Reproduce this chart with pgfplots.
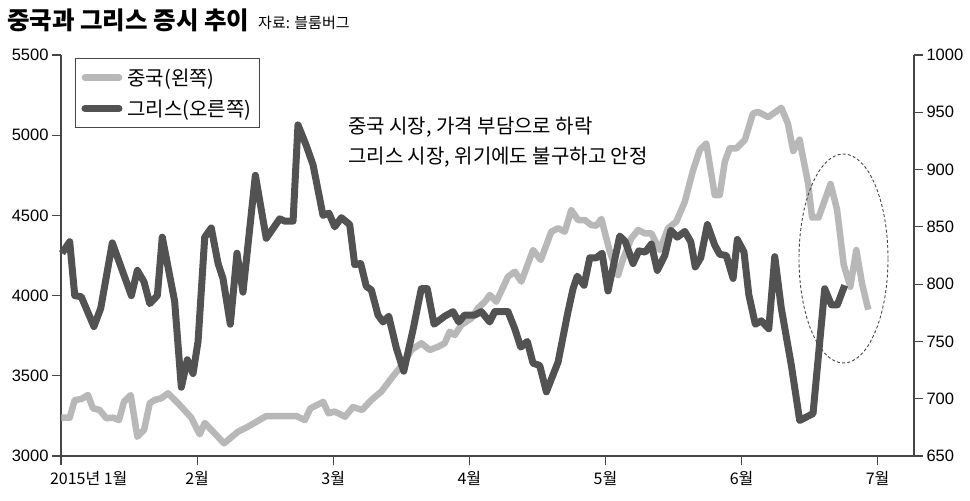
\documentclass[border=0pt]{standalone}
\usepackage{fontspec}
\setmainfont{Liberation Sans}
\newfontfamily\kr{Noto Sans CJK KR}
\usepackage{pgfplots}
\pgfplotsset{compat=1.18}
\definecolor{chinagray}{RGB}{184,184,184}
\definecolor{greecegray}{RGB}{82,82,82}
\definecolor{axisgray}{RGB}{70,70,70}

\begin{document}
\begin{tikzpicture}[x=1pt,y=1pt]
\useasboundingbox (0,0) rectangle (970,501);
\pgfplotsset{
  base/.style={
    at={(61pt,45pt)}, anchor=south west,
    width=853pt, height=401pt, scale only axis,
    xmin=0, xmax=6.267,
    tick align=outside, major tick length=9pt,
    tick style={axisgray, line width=1.2pt},
    axis line style={axisgray, line width=1.4pt},
    /pgf/number format/assume math mode=true,
    /pgf/number format/1000 sep={},
    yticklabel style={font=\fontsize{16.5}{18}\selectfont},
    clip=false,
  },
}

% China (left axis)
\begin{axis}[base,
  ymin=3000, ymax=5500,
  axis x line*=bottom, axis y line*=left,
  xtick={0,1,2,3,4,5,6},
  xticklabels={{\rlap{\hspace{-11pt}2015년 1월}},2월,3월,4월,5월,6월,7월},
  xticklabel style={font=\kr\fontsize{16}{18}\selectfont, yshift=-3pt},
  ytick={3000,3500,...,5500},
  legend cell align=left,
  legend image code/.code={\draw[#1, line cap=round] (0pt,0pt) -- (34pt,0pt);},
  legend style={at={(0.0164,0.9925)}, anchor=north west,
    draw=axisgray, line width=1pt, fill=white,
    inner xsep=6pt, inner ysep=8pt, row sep=9pt, column sep=3pt,
    font=\kr\fontsize{20}{23}\selectfont},
]
\addplot[chinagray, line width=6.5pt, line join=round] coordinates {
(0.002,3239) (0.064,3239) (0.101,3349) (0.149,3355) (0.198,3380) (0.235,3297) (0.284,3287) (0.333,3235) (0.382,3239) (0.426,3224) (0.463,3339) (0.512,3380) (0.561,3120) (0.610,3162) (0.652,3329) (0.688,3349) (0.737,3360) (0.786,3391) (0.860,3329) (0.957,3239) (1.019,3135) (1.056,3206) (1.117,3152) (1.198,3079) (1.301,3152) (1.374,3183) (1.508,3249) (1.730,3249) (1.791,3224) (1.833,3297) (1.927,3337) (1.965,3266) (2.010,3277) (2.087,3245) (2.145,3305) (2.212,3287) (2.280,3349) (2.353,3401) (2.427,3484) (2.525,3588) (2.574,3661) (2.647,3703) (2.709,3661) (2.770,3681) (2.819,3703) (2.856,3775) (2.893,3754) (2.941,3817) (3.015,3858) (3.064,3923) (3.115,3962) (3.150,4004) (3.198,3962) (3.284,4118) (3.334,4149) (3.382,4087) (3.468,4284) (3.525,4222) (3.602,4398) (3.652,4420) (3.701,4398) (3.749,4534) (3.799,4471) (3.848,4471) (3.896,4440) (3.933,4436) (3.970,4478) (4.032,4274) (4.093,4128) (4.129,4228) (4.190,4357) (4.240,4409) (4.289,4388) (4.337,4388) (4.399,4284) (4.460,4420) (4.521,4461) (4.583,4585) (4.644,4783) (4.693,4908) (4.741,4949) (4.803,4627) (4.840,4627) (4.877,4835) (4.913,4918) (4.962,4918) (5.024,4970) (5.084,5136) (5.121,5145) (5.197,5113) (5.292,5171) (5.340,5074) (5.380,4901) (5.426,4972) (5.489,4700) (5.518,4487) (5.566,4487) (5.654,4696) (5.702,4534) (5.751,4191) (5.799,4055) (5.843,4284) (5.886,4072) (5.931,3912)
};
\addlegendentry{중국(왼쪽)}
\addlegendimage{greecegray, line width=7pt}
\addlegendentry{그리스(오른쪽)}
\end{axis}

% Greece (right axis)
\begin{axis}[base,
  ymin=650, ymax=1000,
  axis x line=none, axis y line*=right,
  ytick={650,700,...,1000},
]
\addplot[greecegray, line width=7pt, line join=round] coordinates {
(0.007,827) (0.064,837) (0.101,790) (0.149,789) (0.242,763) (0.292,779) (0.377,836) (0.517,790) (0.561,812) (0.610,802) (0.652,783) (0.708,790) (0.744,841) (0.835,785) (0.884,710) (0.928,734) (0.970,722) (1.007,750) (1.056,841) (1.104,849) (1.154,818) (1.190,805) (1.244,765) (1.293,827) (1.337,793) (1.428,895) (1.508,840) (1.607,857) (1.644,855) (1.705,855) (1.741,939) (1.802,921) (1.852,904) (1.925,860) (1.969,862) (2.011,850) (2.060,858) (2.121,852) (2.158,817) (2.202,818) (2.243,798) (2.280,795) (2.329,773) (2.366,767) (2.408,772) (2.464,744) (2.518,724) (2.586,760) (2.647,796) (2.691,796) (2.741,765) (2.819,772) (2.880,776) (2.922,767) (2.966,773) (3.040,773) (3.088,776) (3.150,767) (3.187,776) (3.284,776) (3.334,761) (3.378,745) (3.426,750) (3.468,731) (3.517,729) (3.566,706) (3.652,732) (3.725,776) (3.762,796) (3.793,807) (3.843,799) (3.885,823) (3.933,823) (3.975,827) (4.019,794) (4.105,842) (4.146,837) (4.203,818) (4.245,829) (4.293,828) (4.337,835) (4.381,812) (4.436,825) (4.480,847) (4.528,841) (4.583,846) (4.627,837) (4.660,815) (4.700,823) (4.749,852) (4.803,834) (4.840,826) (4.888,825) (4.938,805) (4.969,839) (5.018,828) (5.053,791) (5.101,765) (5.145,768) (5.200,761) (5.244,824) (5.292,779) (5.366,729) (5.427,681) (5.525,687) (5.611,796) (5.660,782) (5.704,782) (5.758,799)
};
\end{axis}

\node[anchor=base west, inner sep=0] at (7,471) {\kr\bfseries\fontsize{24.5}{27}\selectfont 중국과 그리스 증시 추이};
\node[anchor=base west, inner sep=0] at (258,472) {\kr\fontsize{15}{17}\selectfont 자료: 블룸버그};
\node[anchor=base west, inner sep=0] at (348,367) {\kr\fontsize{20}{22}\selectfont 중국 시장, 가격 부담으로 하락};
\node[anchor=base west, inner sep=0] at (348,337) {\kr\fontsize{20}{22}\selectfont 그리스 시장, 위기에도 불구하고 안정};
\draw[axisgray, line width=0.9pt, dash pattern=on 3pt off 2.2pt] (843.5,242.5) ellipse [x radius=44.5, y radius=104.5];
\end{tikzpicture}
\end{document}
